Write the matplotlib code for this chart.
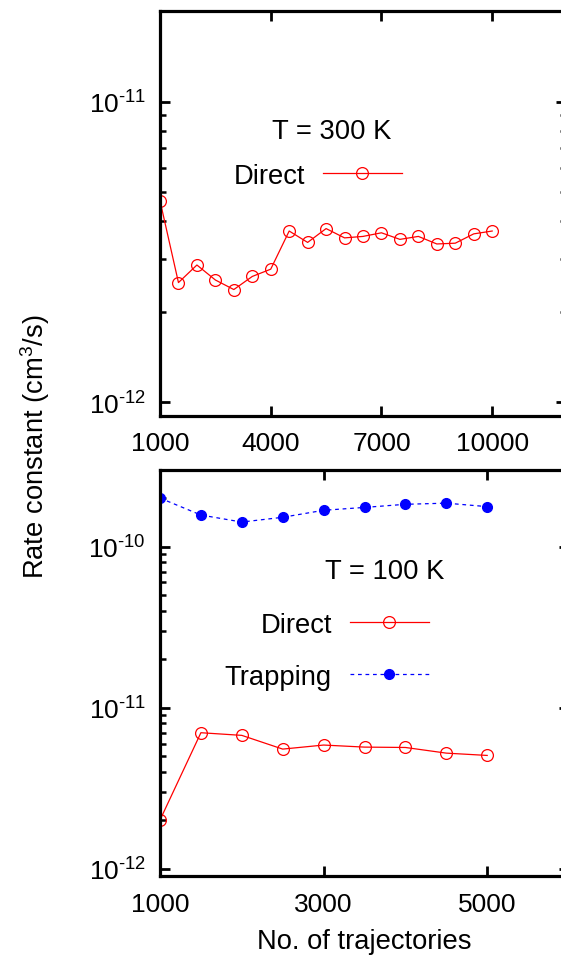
import matplotlib
matplotlib.use("Agg")
import matplotlib.pyplot as plt
from matplotlib.ticker import LogLocator, FixedLocator, FuncFormatter, NullFormatter
import numpy as np

plt.rcParams['font.family'] = ['Liberation Sans', 'DejaVu Sans']
plt.rcParams['mathtext.fontset'] = 'custom'
plt.rcParams['mathtext.rm'] = 'Liberation Sans'
plt.rcParams['mathtext.it'] = 'Liberation Sans'
plt.rcParams['font.size'] = 19.7

# T = 300 K, direct
traj_300 = [1000, 1500, 2000, 2500, 3000, 3500, 4000, 4500, 5000, 5500,
            6000, 6500, 7000, 7500, 8000, 8500, 9000, 9500, 10000]
direct_300 = [4.68e-12, 2.50e-12, 2.86e-12, 2.55e-12, 2.37e-12, 2.62e-12, 2.77e-12,
              3.71e-12, 3.40e-12, 3.78e-12, 3.52e-12, 3.56e-12, 3.66e-12, 3.48e-12,
              3.56e-12, 3.36e-12, 3.38e-12, 3.63e-12, 3.71e-12]

# T = 100 K, direct and trapping
traj_100 = [1000, 1500, 2000, 2500, 3000, 3500, 4000, 4500, 5000]
direct_100 = [2.01e-12, 7.0e-12, 6.74e-12, 5.54e-12, 5.87e-12, 5.70e-12, 5.67e-12,
              5.23e-12, 5.06e-12]
trapping_100 = [2.0e-10, 1.57e-10, 1.42e-10, 1.52e-10, 1.68e-10, 1.75e-10, 1.83e-10,
                1.86e-10, 1.77e-10]

xticks_300 = [1000, 4000, 7000, 10000]
xticks_100 = [1000, 3000, 5000]

W, H = 561, 962
fig = plt.figure(figsize=(W / 100, H / 100), dpi=100)
ax1 = fig.add_axes([160 / W, 1 - 417 / H, 406 / W, 405 / H])
ax2 = fig.add_axes([160 / W, 1 - 877.3 / H, 409 / W, 406.6 / H])


def sci(v, pos):
    e = int(round(np.log10(v)))
    return r'$\mathregular{10^{\text{%d}}}$' % e


def style(ax, xticks, xmax, ylim):
    ax.set_yscale('log')
    ax.set_xlim(1000, xmax)
    ax.set_ylim(*ylim)
    ax.xaxis.set_major_locator(FixedLocator(xticks))
    ax.yaxis.set_major_locator(LogLocator(base=10, numticks=10))
    ax.yaxis.set_minor_locator(LogLocator(base=10, subs=np.arange(2, 10), numticks=20))
    ax.yaxis.set_major_formatter(FuncFormatter(sci))
    ax.yaxis.set_minor_formatter(NullFormatter())
    for s in ax.spines.values():
        s.set_linewidth(2.3)
    ax.tick_params(which='major', direction='in', length=7.5, width=2,
                   top=True, right=True, labelsize=19)
    ax.tick_params(which='minor', direction='in', length=4, width=1.8,
                   top=True, right=True)
    ax.tick_params(axis='x', pad=11)
    ax.tick_params(axis='y', pad=10)


style(ax1, xticks_300, 12000, (9e-13, 2e-11))
style(ax2, xticks_100, 6000, (9e-13, 3e-10))

ax1.plot(traj_300, direct_300, color='red', lw=0.9, marker='o', ms=8.5,
         mfc='none', mec='red', mew=0.9, label='Direct')
ax1.text(0.423, 0.704, 'T = 300 K', transform=ax1.transAxes, ha='center', va='center')
ax1.legend(loc='center right', bbox_to_anchor=(0.596, 0.593), markerfirst=False,
           frameon=False, borderpad=0, borderaxespad=0, handlelength=2.9,
           handletextpad=0.65, numpoints=1)

ax2.plot(traj_100, direct_100, color='red', lw=0.9, marker='o', ms=8.5,
         mfc='none', mec='red', mew=0.9, label='Direct')
ax2.plot(traj_100, trapping_100, color='blue', lw=0.9, ls=(0, (3, 3)), marker='o',
         ms=7, mfc='blue', mec='blue', label='Trapping')
ax2.text(0.550, 0.751, 'T = 100 K', transform=ax2.transAxes, ha='center', va='center')
ax2.legend(loc='center right', bbox_to_anchor=(0.658, 0.554), markerfirst=False,
           frameon=False, borderpad=0, borderaxespad=0, handlelength=2.9,
           handletextpad=0.65, labelspacing=0.95, numpoints=1)

ax2.set_xlabel('No. of trajectories', labelpad=9)
fig.text(35 / W, 1 - 447 / H, r'Rate constant (cm$^3$/s)', rotation=90,
         ha='center', va='center')

fig.savefig('out.png', dpi=100)
